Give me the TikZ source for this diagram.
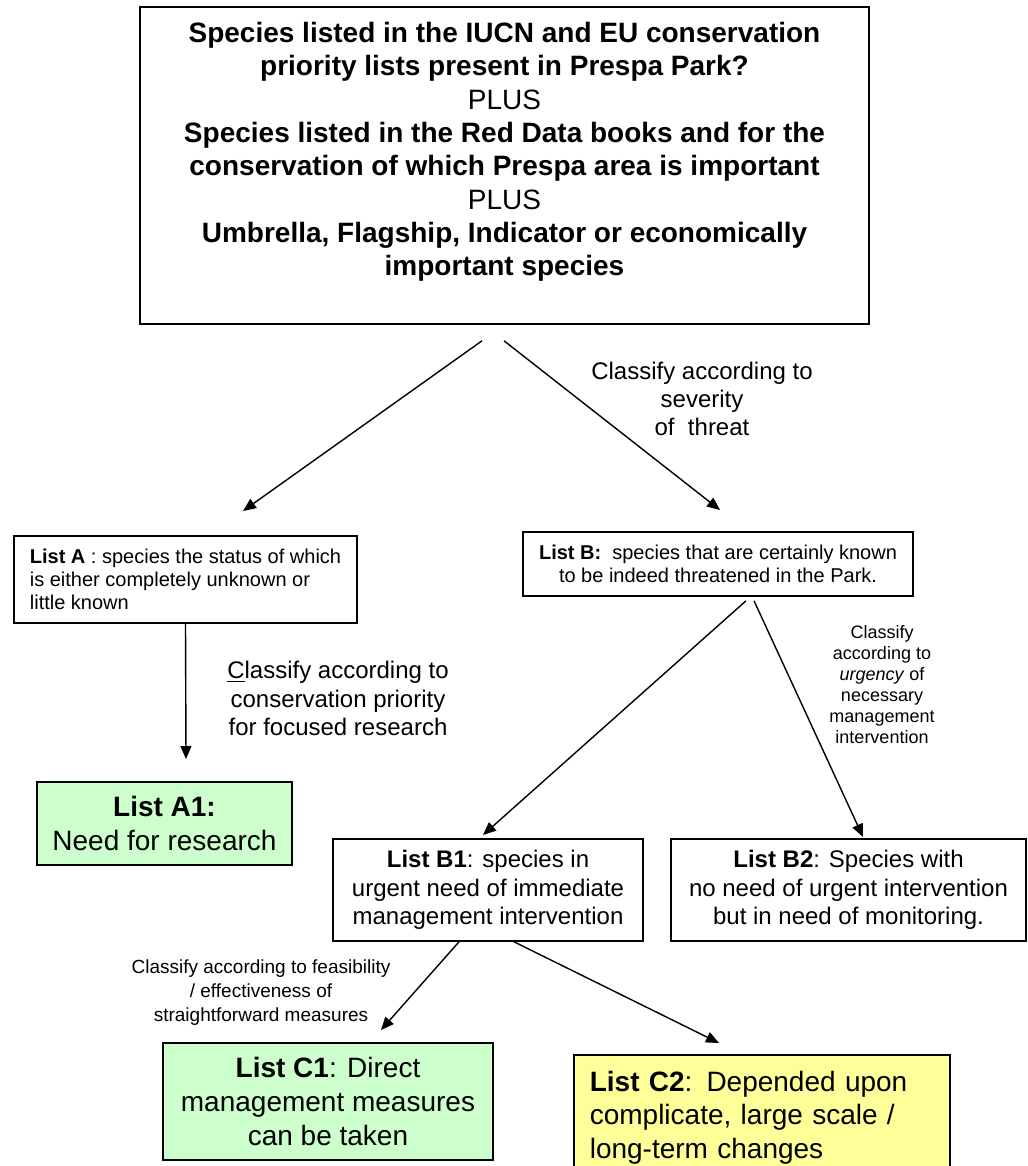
\documentclass[tikz,border=0pt]{standalone}
\usepackage{fontspec}
\setmainfont{Liberation Sans}
\usetikzlibrary{arrows.meta,calc}
\definecolor{mint}{HTML}{CCFFCC}
\definecolor{lemon}{HTML}{FFFF99}

\begin{document}
\begin{tikzpicture}[x=.5bp,y=-.5bp,>={Triangle[length=6.5bp,width=5.5bp]},
  box/.style={draw,line width=.8bp,inner sep=0pt,align=center},
  arr/.style={->,line width=.7bp},
  ftop/.style={font=\fontsize{14bp}{16.65bp}\selectfont},
  flist/.style={font=\fontsize{10bp}{11.5bp}\selectfont},
  fmid/.style={font=\fontsize{12bp}{14.2bp}\selectfont},
  fbig/.style={font=\fontsize{14bp}{16.8bp}\selectfont},
  fsmall/.style={font=\fontsize{9bp}{10.5bp}\selectfont}]
  \useasboundingbox (0,0) rectangle (1027,1166);

  % top question box
  \node[box,minimum width=364.5bp,minimum height=158.5bp] (top) at (504.5,165.5) {};
  \node[ftop,align=center] (toptext) at (504.5,152)
    {\textbf{Species listed in the IUCN and EU conservation}\\
     \textbf{priority lists present in Prespa Park?}\\
     PLUS\\
     \textbf{Species listed in the Red Data books and for the}\\
     \textbf{conservation of which Prespa area is important}\\
     PLUS\\
     \textbf{Umbrella, Flagship, Indicator or economically}\\
     \textbf{important species}};

  % first split
  \node[box,flist,align=left,minimum width=171.5bp,
    minimum height=43.5bp] (A) at (185.5,579.5)
    {\textbf{List A} : species the status of which\\
     is either completely unknown or\\
     little known};
  \node[box,flist,minimum width=195bp,minimum height=32bp] (B) at (718,564)
    {\textbf{List B:}\ \ species that are certainly known\\
     to be indeed threatened in the Park.};
  \coordinate (tl) at ($(top.south)+(-22.5,16)$);
  \coordinate (tr) at ($(top.south)+(-.5,16)$);
  \coordinate (aIn) at (243,511);
  \coordinate (bIn) at (720,510);
  \draw[arr] (tl) -- (aIn);
  \draw[arr] (tr) -- (bIn);
  \node[fmid,align=center] (sev) at (702,399)
    {Classify according to\\severity\\of\ \ threat};

  % list A branch
  \node[box,fbig,fill=mint,minimum width=127.5bp,minimum height=41.5bp] (A1)
    at (164.5,823.5) {\textbf{List A1:}\\Need for research};
  \coordinate (a1In) at (186,759);
  \draw[arr] (A.south) -- (a1In);
  \node[fmid,align=center] (prio) at (338,698.5)
    {\underline{C}lassify according to\\conservation priority\\for focused research};

  % list B branch
  \node[box,fmid,minimum width=155bp,minimum height=51bp] (B1) at (488,890)
    {\textbf{List B1}: species in\\urgent need of immediate\\management intervention};
  \node[box,fmid,minimum width=177.5bp,minimum height=51bp] (B2) at (848.5,890)
    {\textbf{List B2}: Species with\\no need of urgent intervention\\but in need of monitoring.};
  \coordinate (bl) at ($(B.south)+(28,4)$);
  \coordinate (br) at ($(B.south)+(36,4)$);
  \coordinate (b1In) at (483,835);
  \coordinate (b2In) at (863,837);
  \draw[arr] (bl) -- (b1In);
  \draw[arr] (br) -- (b2In);
  \node[fsmall,align=center] (urg) at (882,685)
    {Classify\\according to\\\textit{urgency} of\\necessary\\management\\intervention};

  % list B1 branch
  \node[box,fbig,fill=mint,minimum width=165bp,minimum height=58.5bp] (C1)
    at (328,1101.5) {\textbf{List C1}: Direct\\management measures\\can be taken};
  \node[box,fbig,fill=lemon,align=left,anchor=north west,text width=172bp,
    inner xsep=8bp,inner ysep=8bp] (C2) at (573,1054)
    {\textbf{List C2}: Depended upon\\complicate, large scale /\\long-term changes};
  \coordinate (cl) at ($(B1.south)+(-29,0)$);
  \coordinate (cr) at ($(B1.south)+(26,0)$);
  \coordinate (c1In) at (381,1030);
  \coordinate (c2In) at (719,1043);
  \draw[arr] (cl) -- (c1In);
  \draw[arr] (cr) -- (c2In);
  \node[font=\fontsize{9.5bp}{12bp}\selectfont,align=center] (feas) at (261,992.5)
    {Classify according to feasibility\\/ effectiveness of\\straightforward measures};
\end{tikzpicture}
\end{document}
